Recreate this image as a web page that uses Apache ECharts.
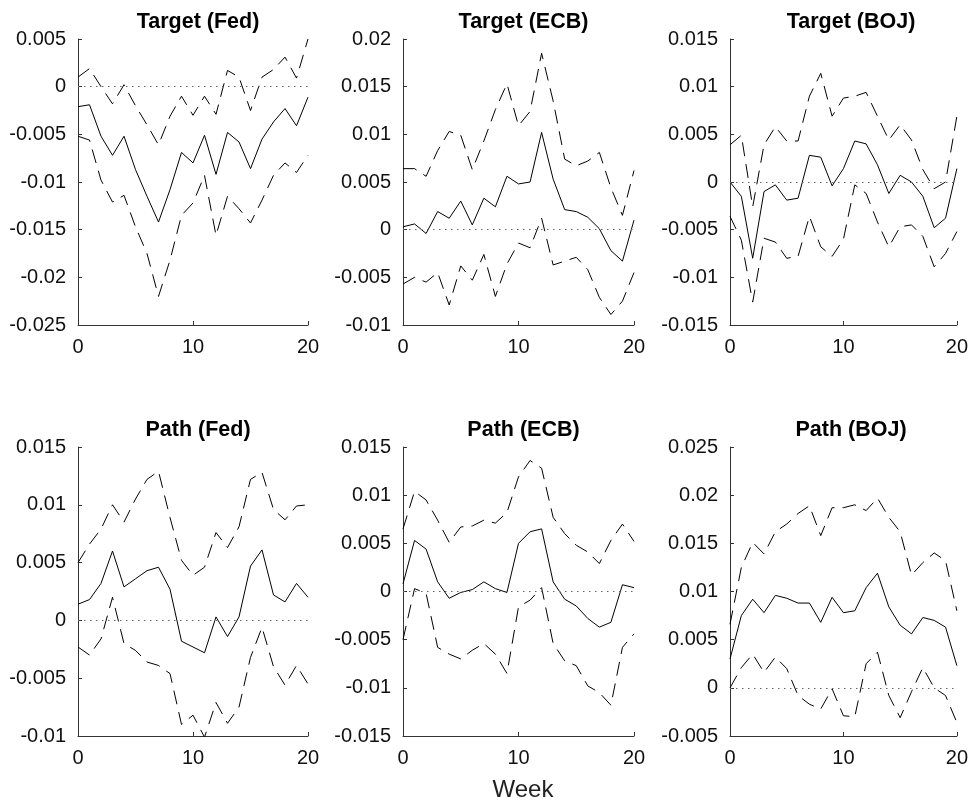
<!DOCTYPE html>
<html>
<head>
<meta charset="utf-8">
<script src="https://cdn.jsdelivr.net/npm/echarts@6/dist/echarts.min.js"></script>
<style>
html,body{margin:0;padding:0;background:#fff;}
#chart{width:971px;height:803px;}
</style>
</head>
<body>
<div id="chart"></div>
<script>
const weeks = [0,1,2,3,4,5,6,7,8,9,10,11,12,13,14,15,16,17,18,19,20];

const titles = ['Target (Fed)','Target (ECB)','Target (BOJ)','Path (Fed)','Path (ECB)','Path (BOJ)'];
const xLabel = 'Week';

// Target (Fed)
const fedTargetMid = [-0.0021,-0.0019,-0.0052,-0.0072,-0.0052,-0.0087,-0.0115,-0.0142,-0.0108,-0.0069,-0.0080,-0.0051,-0.0092,-0.0048,-0.0058,-0.0086,-0.0055,-0.0037,-0.0023,-0.0041,-0.0011];
const fedTargetUp  = [0.0010,0.0019,0.0000,-0.0018,0.0002,-0.0020,-0.0040,-0.0061,-0.0031,-0.0010,-0.0030,-0.0010,-0.0029,0.0017,0.0010,-0.0025,0.0010,0.0018,0.0031,0.0009,0.0050];
const fedTargetLo  = [-0.0052,-0.0056,-0.0098,-0.0121,-0.0114,-0.0147,-0.0175,-0.0220,-0.0182,-0.0135,-0.0122,-0.0093,-0.0156,-0.0115,-0.0128,-0.0143,-0.0119,-0.0093,-0.0080,-0.0090,-0.0072];

// Target (ECB)
const ecbTargetMid = [0.0003,0.0006,-0.0004,0.0019,0.0012,0.0030,0.0005,0.0033,0.0024,0.0056,0.0048,0.0050,0.0102,0.0053,0.0021,0.0019,0.0013,0.0001,-0.0022,-0.0033,0.0010];
const ecbTargetUp  = [0.0064,0.0064,0.0056,0.0083,0.0103,0.0099,0.0063,0.0093,0.0126,0.0153,0.0109,0.0124,0.0185,0.0135,0.0074,0.0067,0.0072,0.0081,0.0044,0.0015,0.0062];
const ecbTargetLo  = [-0.0057,-0.0050,-0.0055,-0.0045,-0.0079,-0.0038,-0.0053,-0.0026,-0.0070,-0.0036,-0.0014,-0.0019,0.0012,-0.0037,-0.0033,-0.0029,-0.0042,-0.0071,-0.0089,-0.0075,-0.0045];

// Target (BOJ)
const bojTargetMid = [0.0000,-0.0015,-0.0080,-0.0010,-0.0003,-0.0019,-0.0017,0.0028,0.0026,-0.0004,0.0014,0.0043,0.0040,0.0018,-0.0012,0.0007,0.0000,-0.0015,-0.0048,-0.0038,0.0014];
const bojTargetUp  = [0.0039,0.0049,-0.0026,0.0039,0.0058,0.0043,0.0043,0.0090,0.0114,0.0069,0.0088,0.0090,0.0094,0.0069,0.0044,0.0060,0.0044,0.0013,-0.0007,0.0000,0.0069];
const bojTargetLo  = [-0.0036,-0.0061,-0.0126,-0.0059,-0.0063,-0.0080,-0.0078,-0.0036,-0.0068,-0.0078,-0.0060,-0.0003,-0.0012,-0.0042,-0.0068,-0.0047,-0.0045,-0.0057,-0.0089,-0.0075,-0.0052];

// Path (Fed)
const fedPathMid = [0.0014,0.0018,0.0032,0.0060,0.0029,0.0036,0.0043,0.0046,0.0027,-0.0018,-0.0023,-0.0028,0.0003,-0.0014,0.0003,0.0047,0.0061,0.0022,0.0016,0.0032,0.0020];
const fedPathUp  = [0.0050,0.0066,0.0079,0.0100,0.0085,0.0105,0.0122,0.0129,0.0089,0.0052,0.0039,0.0046,0.0076,0.0063,0.0081,0.0122,0.0128,0.0096,0.0087,0.0099,0.0100];
const fedPathLo  = [-0.0023,-0.0030,-0.0016,0.0020,-0.0020,-0.0026,-0.0036,-0.0039,-0.0046,-0.0090,-0.0082,-0.0101,-0.0071,-0.0089,-0.0075,-0.0032,-0.0006,-0.0040,-0.0056,-0.0039,-0.0055];

// Path (ECB)
const ecbPathMid = [0.0008,0.0053,0.0044,0.0010,-0.0007,-0.0001,0.0002,0.0010,0.0003,-0.0001,0.0050,0.0062,0.0065,0.0010,-0.0008,-0.0015,-0.0028,-0.0037,-0.0032,0.0007,0.0004];
const ecbPathUp  = [0.0065,0.0104,0.0095,0.0074,0.0051,0.0067,0.0068,0.0074,0.0071,0.0082,0.0119,0.0136,0.0128,0.0077,0.0060,0.0048,0.0041,0.0029,0.0053,0.0070,0.0052];
const ecbPathLo  = [-0.0050,0.0003,-0.0002,-0.0058,-0.0065,-0.0070,-0.0061,-0.0054,-0.0065,-0.0085,-0.0016,-0.0009,0.0004,-0.0054,-0.0072,-0.0077,-0.0098,-0.0105,-0.0118,-0.0058,-0.0044];

// Path (BOJ)
const bojPathMid = [0.0030,0.0075,0.0092,0.0078,0.0096,0.0093,0.0088,0.0088,0.0068,0.0094,0.0078,0.0080,0.0104,0.0119,0.0084,0.0065,0.0056,0.0073,0.0070,0.0063,0.0023];
const bojPathUp  = [0.0066,0.0125,0.0151,0.0139,0.0162,0.0170,0.0181,0.0189,0.0158,0.0187,0.0187,0.0190,0.0184,0.0197,0.0177,0.0162,0.0117,0.0130,0.0140,0.0132,0.0080];
const bojPathLo  = [0.0000,0.0021,0.0035,0.0016,0.0032,0.0020,-0.0008,-0.0017,-0.0022,-0.0001,-0.0029,-0.0030,0.0025,0.0037,-0.0008,-0.0031,-0.0004,0.0021,0.0000,-0.0008,-0.0036];

const yMins = [-0.025,-0.01,-0.015,-0.01,-0.015,-0.005];
const yMaxs = [0.005,0.02,0.015,0.015,0.015,0.025];
const yStep = 0.005;
const xTicks = [0,10,20];

const panels = [
  [fedTargetMid, fedTargetUp, fedTargetLo],
  [ecbTargetMid, ecbTargetUp, ecbTargetLo],
  [bojTargetMid, bojTargetUp, bojTargetLo],
  [fedPathMid, fedPathUp, fedPathLo],
  [ecbPathMid, ecbPathUp, ecbPathLo],
  [bojPathMid, bojPathUp, bojPathLo]
];

const FONT = '"Liberation Sans", Arial, Helvetica, sans-serif';
const lefts = [78, 403, 730];
const widths = [230, 231, 232];
const tops = [39, 447];
const heights = [286, 289];

const grids = [], xAxes = [], yAxes = [], series = [], titleComps = [];
for (let i = 0; i < 6; i++) {
  const col = i % 3, row = Math.floor(i / 3);
  grids.push({left: lefts[col], top: tops[row], width: widths[col], height: heights[row], containLabel: false});
  xAxes.push({
    type: 'value', gridIndex: i, min: xTicks[0], max: xTicks[2], interval: xTicks[1] - xTicks[0],
    axisLine: {show: true, onZero: false, lineStyle: {color: '#333', width: 1}},
    axisTick: {show: true, inside: true, length: 4, lineStyle: {color: '#333'}},
    axisLabel: {color: '#111', fontSize: 20, fontFamily: FONT, margin: 12},
    splitLine: {show: false}
  });
  yAxes.push({
    type: 'value', gridIndex: i, min: yMins[i], max: yMaxs[i], interval: yStep,
    axisLine: {show: true, onZero: false, lineStyle: {color: '#333', width: 1}},
    axisTick: {show: true, inside: true, length: 4, lineStyle: {color: '#333'}},
    axisLabel: {color: '#111', fontSize: 20, fontFamily: FONT, margin: 12,
      formatter: v => String(parseFloat(Number(v).toFixed(4)))},
    splitLine: {show: false}
  });
  const [mid, up, lo] = panels[i];
  const mk = arr => weeks.map((w, k) => [w, arr[k]]);
  series.push({
    type: 'line', xAxisIndex: i, yAxisIndex: i, data: mk(mid), showSymbol: false, symbol: 'none',
    lineStyle: {color: '#000', width: 1, type: 'solid'}, animation: false, silent: true,
    markLine: {silent: true, symbol: ['none','none'], label: {show: false},
      lineStyle: {color: '#666', width: 1, type: [1.5, 4.5]}, data: [{yAxis: 0}], animation: false}
  });
  series.push({
    type: 'line', xAxisIndex: i, yAxisIndex: i, data: mk(up), showSymbol: false, symbol: 'none',
    lineStyle: {color: '#000', width: 1, type: [14, 8]}, animation: false, silent: true
  });
  series.push({
    type: 'line', xAxisIndex: i, yAxisIndex: i, data: mk(lo), showSymbol: false, symbol: 'none',
    lineStyle: {color: '#000', width: 1, type: [14, 8]}, animation: false, silent: true
  });
  titleComps.push({
    text: titles[i], left: lefts[col] + widths[col] / 2, top: tops[row] - 33, textAlign: 'center',
    textStyle: {fontSize: 21.5, fontWeight: 'bold', color: '#000', fontFamily: FONT}
  });
}
titleComps.push({
  text: xLabel, left: 518, top: 773, textAlign: 'center',
  textStyle: {fontSize: 24, fontWeight: 'normal', color: '#222', fontFamily: FONT}
});

const chart = echarts.init(document.getElementById('chart'), null, {renderer: 'canvas'});
chart.setOption({
  animation: false,
  backgroundColor: '#fff',
  title: titleComps,
  grid: grids,
  xAxis: xAxes,
  yAxis: yAxes,
  series: series
});
</script>
</body>
</html>
